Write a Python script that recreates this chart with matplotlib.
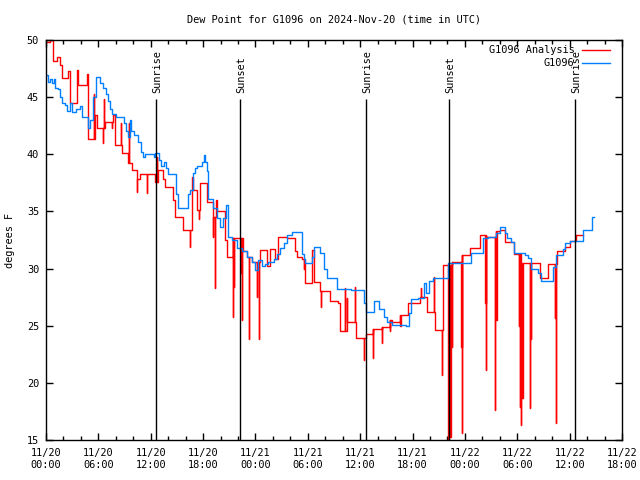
import matplotlib
matplotlib.use("Agg")
import matplotlib.pyplot as plt
from matplotlib.ticker import MultipleLocator

# ---- data (hours since 2024-11-20 00:00 UTC, degrees F) ----
obs_hours = [0.08, 0.23, 0.46, 0.69, 0.92, 1.03, 1.38, 1.60, 1.83, 2.18, 2.41, 2.75, 2.98, 3.44,
             3.90, 4.13, 4.81, 5.04, 5.39, 5.73, 6.19, 6.53, 6.88, 7.10, 7.33, 7.56, 8.02, 8.94,
             9.17, 9.40, 9.63, 9.74, 10.08, 10.54, 10.89, 11.12, 11.34, 12.38, 12.49, 12.95, 13.18,
             13.52, 13.75, 13.98, 14.90, 15.13, 16.27, 16.50, 16.84, 17.07, 17.30, 17.88, 18.11,
             18.22, 18.45, 18.56, 19.14, 19.60, 19.94, 20.28, 20.63, 20.86, 21.31, 21.89, 22.46,
             23.03, 23.61, 23.95, 24.29, 24.75, 25.10, 25.44, 26.13, 26.47, 26.81, 27.27, 27.62,
             28.19, 29.34, 29.56, 29.68, 30.48, 30.71, 31.40, 31.86, 32.20, 33.35, 34.95, 36.44,
             36.67, 37.59, 38.16, 38.73, 39.08, 39.65, 41.25, 41.60, 41.83, 42.63, 43.32, 43.54,
             43.89, 44.35, 46.07, 48.70, 50.08, 50.65, 51.57, 52.02, 52.60, 52.83, 53.28, 53.63,
             54.89, 55.23, 55.58, 56.38, 56.72, 58.10, 58.44, 59.24, 59.47, 60.05, 61.54, 62.57,
             62.80]
obs_values = [46.9, 46.3, 46.6, 46.2, 46.6, 45.8, 45.7, 45.0, 44.5, 44.3, 43.8, 44.5, 43.7, 44.0,
              44.2, 43.3, 42.3, 43.0, 45.0, 46.8, 46.2, 45.8, 45.3, 44.7, 44.0, 43.5, 43.3, 42.7,
              42.0, 41.5, 43.0, 42.0, 41.7, 41.1, 40.2, 39.8, 40.0, 39.8, 40.1, 39.5, 39.0,
              39.3, 38.8, 38.3, 36.5, 35.3, 36.5, 36.9, 38.4, 38.8, 39.0, 39.3, 39.9,
              39.3, 38.5, 36.1, 35.3, 34.4, 33.6, 34.4, 35.6, 32.8, 32.5, 31.8, 31.5,
              31.0, 30.6, 29.9, 30.75, 30.2, 30.4, 30.6, 30.8, 31.3, 31.8, 32.2, 32.9,
              33.2, 31.3, 30.8, 30.5, 31.0, 31.9, 31.4, 30.0, 29.2, 28.2, 28.1, 27.0,
              26.2, 27.2, 26.5, 25.8, 25.3, 25.1, 25.0, 26.1, 27.3, 27.4, 28.7, 27.9,
              28.9, 29.2, 30.5, 31.4, 32.7, 32.8, 33.1, 33.6, 33.1, 32.7, 32.3, 31.4,
              31.2, 30.9, 30.0, 29.6, 28.9, 30.1, 31.2, 31.7, 32.2, 32.4, 33.4, 34.5,
              34.5]

ana_hours = [0.11, 0.46, 0.80, 1.26, 1.60, 1.83, 2.52, 2.75, 3.55, 3.67, 4.70, 4.81, 5.61, 5.84,
             6.76, 7.68, 7.91, 8.71, 9.40, 9.85, 10.43, 10.77, 12.49, 12.83, 13.41, 13.64, 14.55,
             14.78, 15.70, 16.73, 16.84, 17.30, 17.65, 18.45, 19.14, 19.48, 19.60, 20.51, 20.74,
             21.43, 22.57, 23.03, 23.61, 24.52, 25.32, 25.67, 26.24, 26.59, 27.62, 28.53, 28.76,
             29.34, 29.68, 30.48, 30.71, 31.40, 32.54, 33.46, 33.69, 34.49, 35.52, 36.67, 37.47,
             38.50, 39.42, 39.65, 40.57, 41.48, 42.86, 43.66, 44.58, 45.49, 46.52, 47.67, 48.59,
             49.73, 50.42, 51.57, 52.02, 52.60, 53.63, 54.43, 56.61, 57.52, 58.56, 59.47, 60.05,
             60.74, 61.54]
ana_values = [49.8, 50.0, 48.2, 48.5, 47.8, 46.7, 47.3, 44.5, 47.4, 46.1, 47.0, 41.3, 43.4, 42.3,
              42.8, 43.4, 40.8, 40.1, 39.2, 38.6, 37.8, 38.3, 37.6, 38.6, 37.8, 37.1, 36.0,
              34.5, 33.4, 38.0, 36.9, 35.1, 37.5, 35.8, 34.5, 36.0, 35.0, 32.5, 31.0,
              32.7, 31.5, 31.0, 30.6, 31.6, 30.2, 31.7, 30.8, 32.8, 32.7, 31.5, 31.0,
              30.8, 28.7, 31.6, 28.8, 28.0, 27.2, 27.0, 24.5, 25.3, 23.9, 24.3, 24.7,
              24.9, 25.5, 25.3, 25.9, 27.0, 27.5, 26.2, 24.6, 30.3, 30.6, 31.2, 31.8,
              32.9, 32.8, 33.3, 33.4, 32.3, 31.3, 30.5, 29.2, 30.4, 31.5, 31.9, 32.4,
              32.9, 32.9]

# short excursions of the analysis series
spike_hours = [5.50, 6.53, 6.65, 7.56, 8.59, 9.51, 10.43, 11.57, 12.72, 16.50, 17.53, 19.14, 19.37,
               21.43, 21.54, 22.34, 22.46, 23.26, 24.18, 24.41, 29.56, 31.51, 34.26, 34.49, 35.40,
               36.44, 37.47, 38.50, 39.42, 40.57, 42.97, 44.46, 45.38, 46.07, 46.18, 46.30, 46.52,
               47.56, 47.67, 50.31, 50.42, 51.45, 51.57, 54.20, 54.31, 54.43, 54.55, 55.46, 55.58,
               58.33, 58.44]
spike_values = [45.3, 41.0, 44.8, 42.3, 42.7, 42.7, 36.7, 36.6, 39.8, 31.9, 34.3, 32.8, 28.3,
                25.8, 28.4, 29.6, 25.5, 23.8, 27.5, 23.8, 30.0, 26.6, 28.3, 27.4, 28.4,
                22.0, 22.2, 23.5, 24.5, 25.0, 28.3, 29.3, 20.7, 15.0, 16.5, 15.3, 23.1,
                23.1, 15.6, 27.0, 21.1, 17.6, 25.5, 25.0, 17.9, 16.3, 18.7, 17.8, 23.8,
                25.7, 16.5]

sun_hours = [12.64, 22.27, 36.70, 46.20, 60.65]
sun_labels = ["Sunrise", "Sunset", "Sunrise", "Sunset", "Sunrise"]

xtick_hours = [0, 6, 12, 18, 24, 30, 36, 42, 48, 54, 60, 66]
xtick_labels = ["11/20\n00:00", "11/20\n06:00", "11/20\n12:00", "11/20\n18:00",
                "11/21\n00:00", "11/21\n06:00", "11/21\n12:00", "11/21\n18:00",
                "11/22\n00:00", "11/22\n06:00", "11/22\n12:00", "11/22\n18:00"]

title = "Dew Point for G1096 on 2024-Nov-20 (time in UTC)"


def base_at(t):
    v = ana_values[0]
    for h, val in zip(ana_hours, ana_values):
        if h <= t:
            v = val
    return v


pts = [(h, 0, v) for h, v in zip(ana_hours, ana_values)]
for h, v in zip(spike_hours, spike_values):
    pts.append((h, 1, v))
    pts.append((h + 0.05, 2, base_at(h + 0.05)))
pts.sort(key=lambda p: (p[0], p[1]))
ana_t = [p[0] for p in pts]
ana_v = [p[2] for p in pts]

plt.rcParams['font.family'] = ['DejaVu Sans Mono']
FS = 7.4

fig = plt.figure(figsize=(6.4, 4.8), dpi=100)
ax = fig.add_axes([46 / 640, 40 / 480, 576 / 640, 400 / 480])

ax.plot(ana_t, ana_v, drawstyle='steps-post', color='#ff0000', lw=1.0, label='G1096 Analysis')
ax.plot(obs_hours, obs_values, drawstyle='steps-post', color='#0080ff', lw=1.0, label='G1096')

ax.vlines(sun_hours, 15, 44.8, color='black', lw=1.0)
for h, lab in zip(sun_hours, sun_labels):
    ax.text(h + 0.12, 45.4, lab, rotation=90, ha='center', va='bottom', fontsize=FS)

ax.set_xlim(0, 66)
ax.set_ylim(15, 50)
ax.set_xticks(xtick_hours)
ax.set_xticklabels(xtick_labels, fontsize=FS, linespacing=1.25)
ax.xaxis.set_minor_locator(MultipleLocator(2))
ax.set_yticks(range(15, 51, 5))
ax.tick_params(axis='y', labelsize=FS)
ax.tick_params(which='both', direction='in', top=True, right=True, width=1)
ax.tick_params(which='major', length=5)
ax.tick_params(which='minor', length=3)
ax.tick_params(axis='x', pad=6)
ax.tick_params(axis='y', pad=5)
for s in ax.spines.values():
    s.set_linewidth(1.0)

leg = ax.legend(loc='upper right', frameon=False, markerfirst=False, fontsize=FS,
                handlelength=2.7, handletextpad=0.75, labelspacing=0.3,
                borderaxespad=0.0, borderpad=0.0,
                bbox_to_anchor=(0.979, 0.987), bbox_transform=ax.transAxes)

fig.text(10 / 640, 0.5, "degrees F", rotation=90, ha='center', va='center', fontsize=FS)
fig.text(334 / 640, 1 - 20 / 480, title, ha='center', va='center', fontsize=FS)

fig.savefig("out.png", dpi=100)
